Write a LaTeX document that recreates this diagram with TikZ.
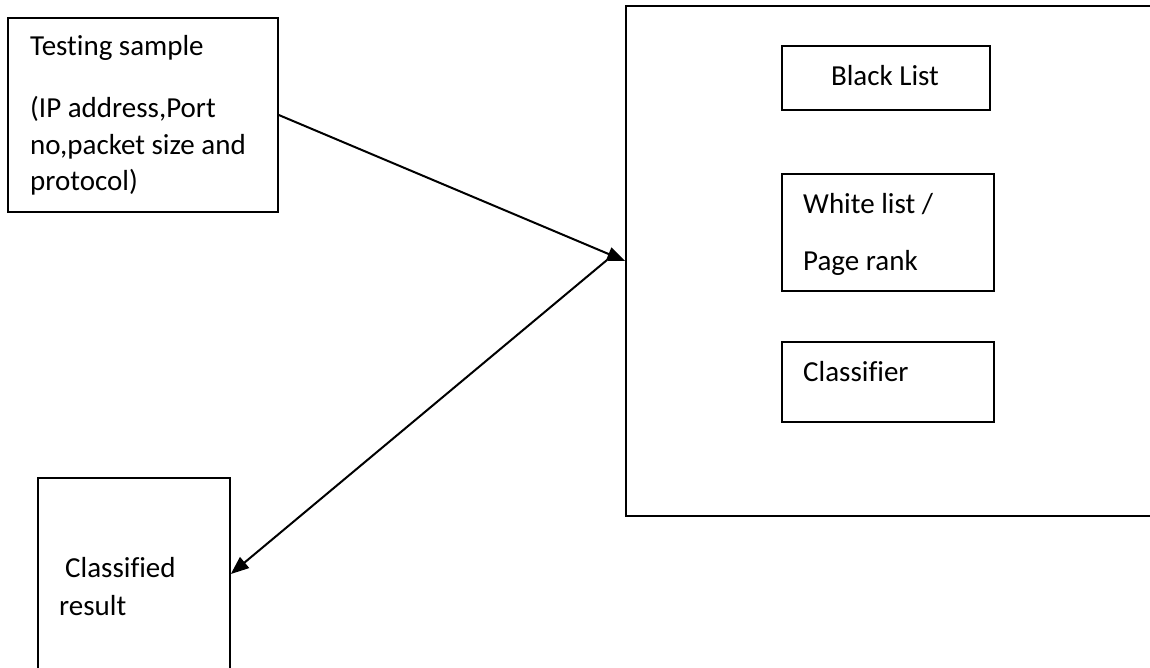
\documentclass[tikz,border=0pt]{standalone}
\usepackage{fontspec}
\setmainfont{Carlito}[Ligatures=CommonOff]
\usetikzlibrary{arrows.meta}
\begin{document}
\begin{tikzpicture}[x=1pt,y=-1pt,
  box/.style={draw, line width=1.6pt, inner sep=0pt, rectangle},
  txt/.style={anchor=base west, inner sep=0pt, font=\fontsize{29pt}{34pt}\selectfont},
  arr/.style={line width=2pt, -{Triangle[length=18pt,width=14pt]}}]
\useasboundingbox (0,0) rectangle (1150,667);
% boxes
\node[box, minimum width=270pt, minimum height=194pt] (test) at (143,115) {};
\node[box, minimum width=536pt, minimum height=510pt] (big) at (894,261) {};
\node[box, minimum width=208pt, minimum height=64pt] (black) at (886,78) {};
\node[box, minimum width=212pt, minimum height=117pt] (white) at (888,232.5) {};
\node[box, minimum width=212pt, minimum height=80pt] (clf) at (888,382) {};
\node[box, minimum width=192pt, minimum height=192pt] (cls) at (134,574) {};
% texts
\node[txt] (t1) at (30,55) {Testing sample};
\node[txt] (t2) at (30,117) {(IP address,Port};
\node[txt] (t3) at (30,154) {no,packet size and};
\node[txt] (t4) at (30,190) {protocol)};
\node[txt, anchor=base] (b1) at (885,85) {Black List};
\node[txt] (w1) at (803,213) {White list /};
\node[txt] (w2) at (803,270) {Page rank};
\node[txt] (c1) at (803,381) {Classifier};
\node[txt] (r1) at (65,577) {Classified};
\node[txt] (r2) at (59,615) {result};
% connectors
\coordinate (src) at (607,260);
\draw[arr] (test.east) -- (big.west);
\draw[arr] (src) -- (cls.east);
\end{tikzpicture}
\end{document}
